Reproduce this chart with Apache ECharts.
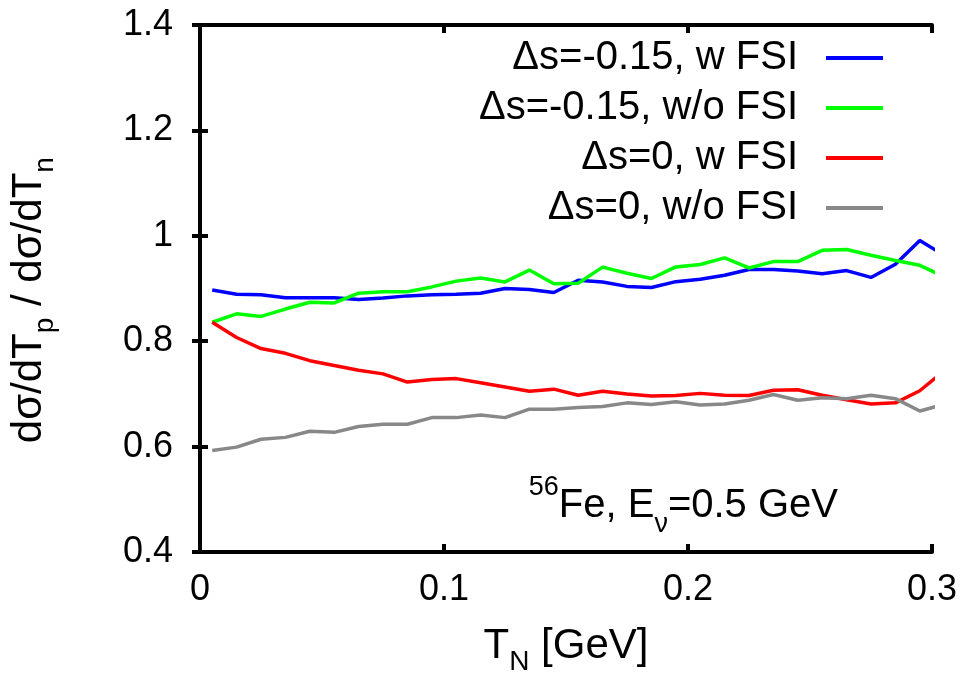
<!DOCTYPE html>
<html>
<head>
<meta charset="utf-8">
<script src="https://cdn.jsdelivr.net/npm/echarts@6/dist/echarts.min.js"></script>
<style>
  html, body { margin: 0; padding: 0; background: #fff; }
  #chart { width: 967px; height: 681px; }
</style>
</head>
<body>
<div id="chart"></div>
<script>
// T_N [GeV] sample points
const tValues = [0.005, 0.015, 0.025, 0.035, 0.045, 0.055, 0.065, 0.075, 0.085, 0.095,
  0.105, 0.115, 0.125, 0.135, 0.145, 0.155, 0.165, 0.175, 0.185, 0.195,
  0.205, 0.215, 0.225, 0.235, 0.245, 0.255, 0.265, 0.275, 0.285, 0.295, 0.305]

const dsNegFsi = [0.897, 0.889, 0.888, 0.8825, 0.8825, 0.8825, 0.879, 0.882, 0.886, 0.888,
  0.889, 0.891, 0.900, 0.898, 0.8925, 0.9156, 0.9125, 0.904, 0.902, 0.913,
  0.9175, 0.925, 0.936, 0.936, 0.933, 0.928, 0.934, 0.921, 0.946, 0.991, 0.963]

const dsNegNoFsi = [0.836, 0.852, 0.847, 0.861, 0.874, 0.8725, 0.891, 0.894, 0.894, 0.903,
  0.914, 0.920, 0.9125, 0.935, 0.909, 0.910, 0.9406, 0.929, 0.919, 0.941,
  0.9456, 0.958, 0.939, 0.951, 0.951, 0.9725, 0.974, 0.963, 0.953, 0.944, 0.922]

const dsZeroFsi = [0.836, 0.807, 0.786, 0.777, 0.763, 0.754, 0.745, 0.738, 0.7225, 0.7275,
  0.729, 0.721, 0.713, 0.705, 0.709, 0.6975, 0.705, 0.700, 0.696, 0.697,
  0.701, 0.6975, 0.697, 0.707, 0.708, 0.6975, 0.689, 0.681, 0.683, 0.706, 0.744]

const dsZeroNoFsi = [0.5925, 0.599, 0.614, 0.6175, 0.629, 0.627, 0.638, 0.6425, 0.6425, 0.655,
  0.655, 0.660, 0.655, 0.671, 0.671, 0.674, 0.676, 0.683, 0.680, 0.685,
  0.679, 0.681, 0.688, 0.699, 0.688, 0.6925, 0.691, 0.6975, 0.691, 0.6675, 0.680]

const seriesNames = ['Δs=-0.15, w FSI', 'Δs=-0.15, w/o FSI', 'Δs=0, w FSI', 'Δs=0, w/o FSI']
const seriesColors = ['#0000ff', '#00ff00', '#ff0000', '#888888']
const seriesValues = [dsNegFsi, dsNegNoFsi, dsZeroFsi, dsZeroNoFsi]

const FONT = "'Liberation Sans', Arial, sans-serif"

// rich styles for axis titles (sub/superscripts)
const titleRich = {
  m: { fontSize: 42, fontFamily: FONT, color: '#000', lineHeight: 60 },
  sub: { fontSize: 28, fontFamily: FONT, color: '#000', lineHeight: 28, verticalAlign: 'bottom' }
}
const noteRich = {
  m: { fontSize: 40, fontFamily: FONT, color: '#000', lineHeight: 64 },
  sub: { fontSize: 27, fontFamily: FONT, color: '#000', lineHeight: 27, verticalAlign: 'bottom' },
  sup: { fontSize: 27, fontFamily: FONT, color: '#000', lineHeight: 27, verticalAlign: 'top' }
}

const chart = echarts.init(document.getElementById('chart'))

const frameLine = { show: true, lineStyle: { color: '#000', width: 4 } }
const frameTick = { show: true, inside: true, length: 8, lineStyle: { color: '#000', width: 4 } }
const tickFont = { fontSize: 36, fontFamily: FONT, color: '#000' }

const option = {
  animation: false,
  backgroundColor: '#fff',
  grid: { left: 200, right: 35, top: 25, bottom: 119, containLabel: false },
  legend: {
    orient: 'vertical',
    right: 84,
    top: 38,
    padding: 0,
    align: 'right',
    icon: 'rect',
    itemWidth: 57,
    itemHeight: 4,
    itemGap: 10,
    data: seriesNames,
    textStyle: { fontSize: 40, fontFamily: FONT, color: '#000', lineHeight: 40, padding: [0, 23, 0, 0] }
  },
  xAxis: [
    {
      type: 'value',
      position: 'bottom',
      min: 0,
      max: 0.3,
      interval: 0.1,
      name: '{m|T}{sub|N}{m| [GeV]}',
      nameLocation: 'middle',
      nameGap: 64,
      nameTextStyle: { rich: titleRich },
      axisLine: frameLine,
      axisTick: frameTick,
      splitLine: { show: false },
      axisLabel: Object.assign({ margin: 20 }, tickFont)
    },
    {
      type: 'value',
      position: 'top',
      min: 0,
      max: 0.3,
      interval: 0.1,
      axisLine: frameLine,
      axisTick: frameTick,
      splitLine: { show: false },
      axisLabel: { show: false }
    }
  ],
  yAxis: [
    {
      type: 'value',
      position: 'left',
      min: 0.4,
      max: 1.4,
      interval: 0.2,
      name: '{m|dσ/dT}{sub|p}{m| / dσ/dT}{sub|n}{m|  }',
      nameLocation: 'middle',
      nameRotate: 90,
      nameGap: 141,
      nameTextStyle: { rich: titleRich },
      axisLine: frameLine,
      axisTick: frameTick,
      splitLine: { show: false },
      axisLabel: Object.assign({ margin: 27 }, tickFont)
    },
    {
      type: 'value',
      position: 'right',
      min: 0.4,
      max: 1.4,
      interval: 0.2,
      axisLine: frameLine,
      axisTick: frameTick,
      splitLine: { show: false },
      axisLabel: { show: false }
    }
  ],
  graphic: [
    {
      type: 'text',
      right: 129,
      top: 474,
      style: {
        text: '{sup|56}{m|Fe, E}{sub|ν}{m|=0.5 GeV}',
        rich: noteRich
      }
    }
  ],
  series: seriesNames.map((name, i) => ({
    name: name,
    type: 'line',
    xAxisIndex: 0,
    yAxisIndex: 0,
    data: tValues.map((t, j) => [t, seriesValues[i][j]]),
    showSymbol: false,
    symbol: 'none',
    clip: true,
    color: seriesColors[i],
    lineStyle: { color: seriesColors[i], width: 3.5 },
    itemStyle: { color: seriesColors[i] }
  }))
}

chart.setOption(option)
</script>
</body>
</html>
